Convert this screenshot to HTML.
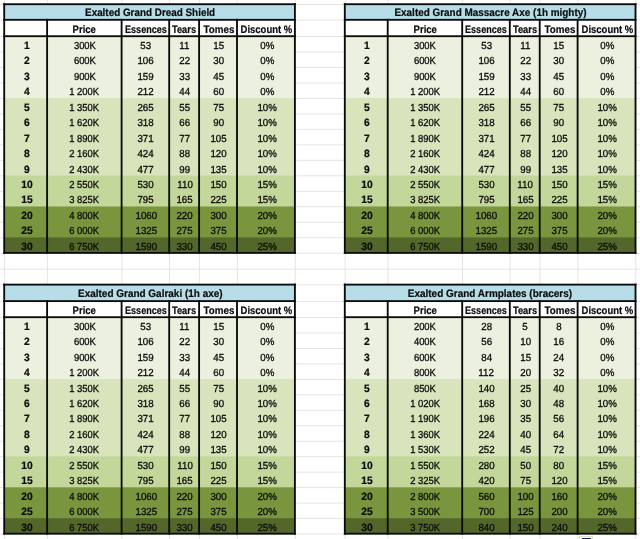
<!DOCTYPE html>
<html><head><meta charset="utf-8"><title>Exalted Grand crafting costs</title>
<style>
html,body{margin:0;padding:0;background:#fff}
body{width:640px;height:539px;position:relative;overflow:hidden;font-family:"Liberation Sans",sans-serif;font-size:10.2px;color:#0c0c0c;text-rendering:geometricPrecision;-webkit-text-stroke:0.3px #0c0c0c}
.g{position:absolute;background:#e5e5e5}
.c{position:absolute}
.l{position:absolute;background:#0a0a0a}
.x{position:absolute;height:11px;line-height:11px;text-align:center;white-space:nowrap}
.x span{display:inline-block;transform-origin:50% 50%}
.tl{position:absolute;left:0;top:0;width:640px;height:539px}
.b{font-weight:bold;font-size:10.8px;-webkit-text-stroke-width:0.22px}
.nb{font-size:10.6px}
</style></head><body>
<svg width="640" height="539" viewBox="0 0 640 539" style="position:absolute;left:0;top:0">
<g fill="#e5e5e5">
<rect x="4.00" y="0" width="1" height="539"/>
<rect x="46.90" y="0" width="1" height="539"/>
<rect x="121.40" y="0" width="1" height="539"/>
<rect x="169.00" y="0" width="1" height="539"/>
<rect x="198.90" y="0" width="1" height="539"/>
<rect x="236.80" y="0" width="1" height="539"/>
<rect x="294.70" y="0" width="1" height="539"/>
<rect x="344.60" y="0" width="1" height="539"/>
<rect x="387.50" y="0" width="1" height="539"/>
<rect x="462.00" y="0" width="1" height="539"/>
<rect x="509.60" y="0" width="1" height="539"/>
<rect x="539.50" y="0" width="1" height="539"/>
<rect x="577.40" y="0" width="1" height="539"/>
<rect x="635.30" y="0" width="1" height="539"/>
<rect x="0" y="4.00" width="640" height="1"/>
<rect x="0" y="19.60" width="640" height="1"/>
<rect x="0" y="36.00" width="640" height="1"/>
<rect x="0" y="51.48" width="640" height="1"/>
<rect x="0" y="66.96" width="640" height="1"/>
<rect x="0" y="82.44" width="640" height="1"/>
<rect x="0" y="97.91" width="640" height="1"/>
<rect x="0" y="113.39" width="640" height="1"/>
<rect x="0" y="128.87" width="640" height="1"/>
<rect x="0" y="144.35" width="640" height="1"/>
<rect x="0" y="159.83" width="640" height="1"/>
<rect x="0" y="175.31" width="640" height="1"/>
<rect x="0" y="190.79" width="640" height="1"/>
<rect x="0" y="206.26" width="640" height="1"/>
<rect x="0" y="221.74" width="640" height="1"/>
<rect x="0" y="237.22" width="640" height="1"/>
<rect x="0" y="252.70" width="640" height="1"/>
<rect x="0" y="284.40" width="640" height="1"/>
<rect x="0" y="300.90" width="640" height="1"/>
<rect x="0" y="317.00" width="640" height="1"/>
<rect x="0" y="332.46" width="640" height="1"/>
<rect x="0" y="347.93" width="640" height="1"/>
<rect x="0" y="363.39" width="640" height="1"/>
<rect x="0" y="378.86" width="640" height="1"/>
<rect x="0" y="394.32" width="640" height="1"/>
<rect x="0" y="409.79" width="640" height="1"/>
<rect x="0" y="425.25" width="640" height="1"/>
<rect x="0" y="440.71" width="640" height="1"/>
<rect x="0" y="456.18" width="640" height="1"/>
<rect x="0" y="471.64" width="640" height="1"/>
<rect x="0" y="487.11" width="640" height="1"/>
<rect x="0" y="502.57" width="640" height="1"/>
<rect x="0" y="518.04" width="640" height="1"/>
<rect x="0" y="533.50" width="640" height="1"/>
<rect x="0" y="268.70" width="640" height="1"/>
</g>
<rect x="4.20" y="4.20" width="290.70" height="16.60" fill="#B7DEE8"/>
<rect x="4.20" y="19.80" width="290.70" height="17.40" fill="#fff"/>
<rect x="4.20" y="36.20" width="290.70" height="16.68" fill="#EBF1DE"/>
<rect x="4.20" y="51.68" width="290.70" height="16.68" fill="#EBF1DE"/>
<rect x="4.20" y="67.16" width="290.70" height="16.68" fill="#EBF1DE"/>
<rect x="4.20" y="82.64" width="290.70" height="16.68" fill="#EBF1DE"/>
<rect x="4.20" y="98.11" width="290.70" height="16.68" fill="#D8E4BC"/>
<rect x="4.20" y="113.59" width="290.70" height="16.68" fill="#D8E4BC"/>
<rect x="4.20" y="129.07" width="290.70" height="16.68" fill="#D8E4BC"/>
<rect x="4.20" y="144.55" width="290.70" height="16.68" fill="#D8E4BC"/>
<rect x="4.20" y="160.03" width="290.70" height="16.68" fill="#D8E4BC"/>
<rect x="4.20" y="175.51" width="290.70" height="16.68" fill="#C4D79B"/>
<rect x="4.20" y="190.99" width="290.70" height="16.68" fill="#C4D79B"/>
<rect x="4.20" y="206.46" width="290.70" height="16.68" fill="#79963E"/>
<rect x="4.20" y="221.94" width="290.70" height="16.68" fill="#79963E"/>
<rect x="4.20" y="237.42" width="290.70" height="15.48" fill="#53672A"/>
<rect x="344.80" y="4.20" width="290.70" height="16.60" fill="#B7DEE8"/>
<rect x="344.80" y="19.80" width="290.70" height="17.40" fill="#fff"/>
<rect x="344.80" y="36.20" width="290.70" height="16.68" fill="#EBF1DE"/>
<rect x="344.80" y="51.68" width="290.70" height="16.68" fill="#EBF1DE"/>
<rect x="344.80" y="67.16" width="290.70" height="16.68" fill="#EBF1DE"/>
<rect x="344.80" y="82.64" width="290.70" height="16.68" fill="#EBF1DE"/>
<rect x="344.80" y="98.11" width="290.70" height="16.68" fill="#D8E4BC"/>
<rect x="344.80" y="113.59" width="290.70" height="16.68" fill="#D8E4BC"/>
<rect x="344.80" y="129.07" width="290.70" height="16.68" fill="#D8E4BC"/>
<rect x="344.80" y="144.55" width="290.70" height="16.68" fill="#D8E4BC"/>
<rect x="344.80" y="160.03" width="290.70" height="16.68" fill="#D8E4BC"/>
<rect x="344.80" y="175.51" width="290.70" height="16.68" fill="#C4D79B"/>
<rect x="344.80" y="190.99" width="290.70" height="16.68" fill="#C4D79B"/>
<rect x="344.80" y="206.46" width="290.70" height="16.68" fill="#79963E"/>
<rect x="344.80" y="221.94" width="290.70" height="16.68" fill="#79963E"/>
<rect x="344.80" y="237.42" width="290.70" height="15.48" fill="#53672A"/>
<rect x="4.20" y="284.60" width="290.70" height="17.50" fill="#B7DEE8"/>
<rect x="4.20" y="301.10" width="290.70" height="17.10" fill="#fff"/>
<rect x="4.20" y="317.20" width="290.70" height="16.66" fill="#EBF1DE"/>
<rect x="4.20" y="332.66" width="290.70" height="16.66" fill="#EBF1DE"/>
<rect x="4.20" y="348.13" width="290.70" height="16.66" fill="#EBF1DE"/>
<rect x="4.20" y="363.59" width="290.70" height="16.66" fill="#EBF1DE"/>
<rect x="4.20" y="379.06" width="290.70" height="16.66" fill="#D8E4BC"/>
<rect x="4.20" y="394.52" width="290.70" height="16.66" fill="#D8E4BC"/>
<rect x="4.20" y="409.99" width="290.70" height="16.66" fill="#D8E4BC"/>
<rect x="4.20" y="425.45" width="290.70" height="16.66" fill="#D8E4BC"/>
<rect x="4.20" y="440.91" width="290.70" height="16.66" fill="#D8E4BC"/>
<rect x="4.20" y="456.38" width="290.70" height="16.66" fill="#C4D79B"/>
<rect x="4.20" y="471.84" width="290.70" height="16.66" fill="#C4D79B"/>
<rect x="4.20" y="487.31" width="290.70" height="16.66" fill="#79963E"/>
<rect x="4.20" y="502.77" width="290.70" height="16.66" fill="#79963E"/>
<rect x="4.20" y="518.24" width="290.70" height="15.46" fill="#53672A"/>
<rect x="344.80" y="284.60" width="290.70" height="17.50" fill="#B7DEE8"/>
<rect x="344.80" y="301.10" width="290.70" height="17.10" fill="#fff"/>
<rect x="344.80" y="317.20" width="290.70" height="16.66" fill="#EBF1DE"/>
<rect x="344.80" y="332.66" width="290.70" height="16.66" fill="#EBF1DE"/>
<rect x="344.80" y="348.13" width="290.70" height="16.66" fill="#EBF1DE"/>
<rect x="344.80" y="363.59" width="290.70" height="16.66" fill="#EBF1DE"/>
<rect x="344.80" y="379.06" width="290.70" height="16.66" fill="#D8E4BC"/>
<rect x="344.80" y="394.52" width="290.70" height="16.66" fill="#D8E4BC"/>
<rect x="344.80" y="409.99" width="290.70" height="16.66" fill="#D8E4BC"/>
<rect x="344.80" y="425.45" width="290.70" height="16.66" fill="#D8E4BC"/>
<rect x="344.80" y="440.91" width="290.70" height="16.66" fill="#D8E4BC"/>
<rect x="344.80" y="456.38" width="290.70" height="16.66" fill="#C4D79B"/>
<rect x="344.80" y="471.84" width="290.70" height="16.66" fill="#C4D79B"/>
<rect x="344.80" y="487.31" width="290.70" height="16.66" fill="#79963E"/>
<rect x="344.80" y="502.77" width="290.70" height="16.66" fill="#79963E"/>
<rect x="344.80" y="518.24" width="290.70" height="15.46" fill="#53672A"/>
<g fill="#0a0a0a">
<rect x="3.28" y="3.28" width="292.55" height="1.85"/>
<rect x="3.28" y="18.88" width="292.55" height="1.85"/>
<rect x="3.28" y="35.28" width="292.55" height="1.85"/>
<rect x="3.28" y="251.97" width="292.55" height="1.85"/>
<rect x="3.28" y="3.28" width="1.85" height="250.55"/>
<rect x="293.97" y="3.28" width="1.85" height="250.55"/>
<rect x="46.18" y="18.88" width="1.85" height="234.95"/>
<rect x="120.67" y="18.88" width="1.85" height="234.95"/>
<rect x="168.27" y="18.88" width="1.85" height="234.95"/>
<rect x="198.17" y="18.88" width="1.85" height="234.95"/>
<rect x="236.07" y="18.88" width="1.85" height="234.95"/>
<rect x="343.88" y="3.28" width="292.55" height="1.85"/>
<rect x="343.88" y="18.88" width="292.55" height="1.85"/>
<rect x="343.88" y="35.28" width="292.55" height="1.85"/>
<rect x="343.88" y="251.97" width="292.55" height="1.85"/>
<rect x="343.88" y="3.28" width="1.85" height="250.55"/>
<rect x="634.58" y="3.28" width="1.85" height="250.55"/>
<rect x="386.78" y="18.88" width="1.85" height="234.95"/>
<rect x="461.28" y="18.88" width="1.85" height="234.95"/>
<rect x="508.88" y="18.88" width="1.85" height="234.95"/>
<rect x="538.78" y="18.88" width="1.85" height="234.95"/>
<rect x="576.68" y="18.88" width="1.85" height="234.95"/>
<rect x="3.28" y="283.68" width="292.55" height="1.85"/>
<rect x="3.28" y="300.18" width="292.55" height="1.85"/>
<rect x="3.28" y="316.27" width="292.55" height="1.85"/>
<rect x="3.28" y="532.78" width="292.55" height="1.85"/>
<rect x="3.28" y="283.68" width="1.85" height="250.95"/>
<rect x="293.97" y="283.68" width="1.85" height="250.95"/>
<rect x="46.18" y="300.18" width="1.85" height="234.45"/>
<rect x="120.67" y="300.18" width="1.85" height="234.45"/>
<rect x="168.27" y="300.18" width="1.85" height="234.45"/>
<rect x="198.17" y="300.18" width="1.85" height="234.45"/>
<rect x="236.07" y="300.18" width="1.85" height="234.45"/>
<rect x="343.88" y="283.68" width="292.55" height="1.85"/>
<rect x="343.88" y="300.18" width="292.55" height="1.85"/>
<rect x="343.88" y="316.27" width="292.55" height="1.85"/>
<rect x="343.88" y="532.78" width="292.55" height="1.85"/>
<rect x="343.88" y="283.68" width="1.85" height="250.95"/>
<rect x="634.58" y="283.68" width="1.85" height="250.95"/>
<rect x="386.78" y="300.18" width="1.85" height="234.45"/>
<rect x="461.28" y="300.18" width="1.85" height="234.45"/>
<rect x="508.88" y="300.18" width="1.85" height="234.45"/>
<rect x="538.78" y="300.18" width="1.85" height="234.45"/>
<rect x="576.68" y="300.18" width="1.85" height="234.45"/>
</g>
</svg>
<div class="tl">
<div class="x b" style="left:5.26px;width:290.70px;top:8px"><span style="transform:scaleX(0.915)">Exalted Grand Dread Shield</span></div>
<div class="x b" style="left:46.86px;width:74.50px;top:25px"><span style="transform:scaleX(0.877)">Price</span></div>
<div class="x b" style="left:120.65px;width:47.60px;top:25px"><span style="transform:scaleX(0.837)">Essences</span></div>
<div class="x b" style="left:169.38px;width:29.90px;top:25px"><span style="transform:scaleX(0.859)">Tears</span></div>
<div class="x b" style="left:200.51px;width:37.90px;top:25px"><span style="transform:scaleX(0.906)">Tomes</span></div>
<div class="x b" style="left:236.84px;width:57.90px;top:25px"><span style="transform:scaleX(0.879)">Discount %</span></div>
<div class="x b nb" style="left:5.40px;width:42.90px;top:41px"><span style="transform:scaleX(0.97)">1</span></div>
<div class="x " style="left:47.60px;width:74.50px;top:41px"><span style="transform:scaleX(0.925)">300K</span></div>
<div class="x " style="left:122.10px;width:47.60px;top:41px"><span style="transform:scaleX(0.955)">53</span></div>
<div class="x " style="left:169.70px;width:29.90px;top:41px"><span style="transform:scaleX(0.955)">11</span></div>
<div class="x " style="left:199.60px;width:37.90px;top:41px"><span style="transform:scaleX(0.955)">15</span></div>
<div class="x " style="left:238.10px;width:57.90px;top:41px"><span style="transform:scaleX(0.955)">0%</span></div>
<div class="x b nb" style="left:5.40px;width:42.90px;top:56px"><span style="transform:scaleX(0.97)">2</span></div>
<div class="x " style="left:47.60px;width:74.50px;top:56px"><span style="transform:scaleX(0.925)">600K</span></div>
<div class="x " style="left:122.10px;width:47.60px;top:56px"><span style="transform:scaleX(0.955)">106</span></div>
<div class="x " style="left:169.70px;width:29.90px;top:56px"><span style="transform:scaleX(0.955)">22</span></div>
<div class="x " style="left:199.60px;width:37.90px;top:56px"><span style="transform:scaleX(0.955)">30</span></div>
<div class="x " style="left:238.10px;width:57.90px;top:56px"><span style="transform:scaleX(0.955)">0%</span></div>
<div class="x b nb" style="left:5.40px;width:42.90px;top:72px"><span style="transform:scaleX(0.97)">3</span></div>
<div class="x " style="left:47.60px;width:74.50px;top:72px"><span style="transform:scaleX(0.925)">900K</span></div>
<div class="x " style="left:122.10px;width:47.60px;top:72px"><span style="transform:scaleX(0.955)">159</span></div>
<div class="x " style="left:169.70px;width:29.90px;top:72px"><span style="transform:scaleX(0.955)">33</span></div>
<div class="x " style="left:199.60px;width:37.90px;top:72px"><span style="transform:scaleX(0.955)">45</span></div>
<div class="x " style="left:238.10px;width:57.90px;top:72px"><span style="transform:scaleX(0.955)">0%</span></div>
<div class="x b nb" style="left:5.40px;width:42.90px;top:87px"><span style="transform:scaleX(0.97)">4</span></div>
<div class="x " style="left:47.00px;width:74.50px;top:87px"><span style="transform:scaleX(0.925)">1 200K</span></div>
<div class="x " style="left:122.10px;width:47.60px;top:87px"><span style="transform:scaleX(0.955)">212</span></div>
<div class="x " style="left:169.70px;width:29.90px;top:87px"><span style="transform:scaleX(0.955)">44</span></div>
<div class="x " style="left:199.60px;width:37.90px;top:87px"><span style="transform:scaleX(0.955)">60</span></div>
<div class="x " style="left:238.10px;width:57.90px;top:87px"><span style="transform:scaleX(0.955)">0%</span></div>
<div class="x b nb" style="left:5.40px;width:42.90px;top:103px"><span style="transform:scaleX(0.97)">5</span></div>
<div class="x " style="left:47.00px;width:74.50px;top:103px"><span style="transform:scaleX(0.925)">1 350K</span></div>
<div class="x " style="left:122.10px;width:47.60px;top:103px"><span style="transform:scaleX(0.955)">265</span></div>
<div class="x " style="left:169.70px;width:29.90px;top:103px"><span style="transform:scaleX(0.955)">55</span></div>
<div class="x " style="left:199.60px;width:37.90px;top:103px"><span style="transform:scaleX(0.955)">75</span></div>
<div class="x " style="left:238.10px;width:57.90px;top:103px"><span style="transform:scaleX(0.955)">10%</span></div>
<div class="x b nb" style="left:5.40px;width:42.90px;top:118px"><span style="transform:scaleX(0.97)">6</span></div>
<div class="x " style="left:47.00px;width:74.50px;top:118px"><span style="transform:scaleX(0.925)">1 620K</span></div>
<div class="x " style="left:122.10px;width:47.60px;top:118px"><span style="transform:scaleX(0.955)">318</span></div>
<div class="x " style="left:169.70px;width:29.90px;top:118px"><span style="transform:scaleX(0.955)">66</span></div>
<div class="x " style="left:199.60px;width:37.90px;top:118px"><span style="transform:scaleX(0.955)">90</span></div>
<div class="x " style="left:238.10px;width:57.90px;top:118px"><span style="transform:scaleX(0.955)">10%</span></div>
<div class="x b nb" style="left:5.40px;width:42.90px;top:134px"><span style="transform:scaleX(0.97)">7</span></div>
<div class="x " style="left:47.00px;width:74.50px;top:134px"><span style="transform:scaleX(0.925)">1 890K</span></div>
<div class="x " style="left:122.10px;width:47.60px;top:134px"><span style="transform:scaleX(0.955)">371</span></div>
<div class="x " style="left:169.70px;width:29.90px;top:134px"><span style="transform:scaleX(0.955)">77</span></div>
<div class="x " style="left:199.60px;width:37.90px;top:134px"><span style="transform:scaleX(0.955)">105</span></div>
<div class="x " style="left:238.10px;width:57.90px;top:134px"><span style="transform:scaleX(0.955)">10%</span></div>
<div class="x b nb" style="left:5.40px;width:42.90px;top:149px"><span style="transform:scaleX(0.97)">8</span></div>
<div class="x " style="left:47.00px;width:74.50px;top:149px"><span style="transform:scaleX(0.925)">2 160K</span></div>
<div class="x " style="left:122.10px;width:47.60px;top:149px"><span style="transform:scaleX(0.955)">424</span></div>
<div class="x " style="left:169.70px;width:29.90px;top:149px"><span style="transform:scaleX(0.955)">88</span></div>
<div class="x " style="left:199.60px;width:37.90px;top:149px"><span style="transform:scaleX(0.955)">120</span></div>
<div class="x " style="left:238.10px;width:57.90px;top:149px"><span style="transform:scaleX(0.955)">10%</span></div>
<div class="x b nb" style="left:5.40px;width:42.90px;top:165px"><span style="transform:scaleX(0.97)">9</span></div>
<div class="x " style="left:47.00px;width:74.50px;top:165px"><span style="transform:scaleX(0.925)">2 430K</span></div>
<div class="x " style="left:122.10px;width:47.60px;top:165px"><span style="transform:scaleX(0.955)">477</span></div>
<div class="x " style="left:169.70px;width:29.90px;top:165px"><span style="transform:scaleX(0.955)">99</span></div>
<div class="x " style="left:199.60px;width:37.90px;top:165px"><span style="transform:scaleX(0.955)">135</span></div>
<div class="x " style="left:238.10px;width:57.90px;top:165px"><span style="transform:scaleX(0.955)">10%</span></div>
<div class="x b nb" style="left:5.40px;width:42.90px;top:180px"><span style="transform:scaleX(0.97)">10</span></div>
<div class="x " style="left:47.00px;width:74.50px;top:180px"><span style="transform:scaleX(0.925)">2 550K</span></div>
<div class="x " style="left:122.10px;width:47.60px;top:180px"><span style="transform:scaleX(0.955)">530</span></div>
<div class="x " style="left:169.70px;width:29.90px;top:180px"><span style="transform:scaleX(0.955)">110</span></div>
<div class="x " style="left:199.60px;width:37.90px;top:180px"><span style="transform:scaleX(0.955)">150</span></div>
<div class="x " style="left:238.10px;width:57.90px;top:180px"><span style="transform:scaleX(0.955)">15%</span></div>
<div class="x b nb" style="left:5.40px;width:42.90px;top:195px"><span style="transform:scaleX(0.97)">15</span></div>
<div class="x " style="left:47.00px;width:74.50px;top:195px"><span style="transform:scaleX(0.925)">3 825K</span></div>
<div class="x " style="left:122.10px;width:47.60px;top:195px"><span style="transform:scaleX(0.955)">795</span></div>
<div class="x " style="left:169.70px;width:29.90px;top:195px"><span style="transform:scaleX(0.955)">165</span></div>
<div class="x " style="left:199.60px;width:37.90px;top:195px"><span style="transform:scaleX(0.955)">225</span></div>
<div class="x " style="left:238.10px;width:57.90px;top:195px"><span style="transform:scaleX(0.955)">15%</span></div>
<div class="x b nb" style="left:5.40px;width:42.90px;top:211px"><span style="transform:scaleX(0.97)">20</span></div>
<div class="x " style="left:47.00px;width:74.50px;top:211px"><span style="transform:scaleX(0.925)">4 800K</span></div>
<div class="x " style="left:122.10px;width:47.60px;top:211px"><span style="transform:scaleX(0.955)">1060</span></div>
<div class="x " style="left:169.70px;width:29.90px;top:211px"><span style="transform:scaleX(0.955)">220</span></div>
<div class="x " style="left:199.60px;width:37.90px;top:211px"><span style="transform:scaleX(0.955)">300</span></div>
<div class="x " style="left:238.10px;width:57.90px;top:211px"><span style="transform:scaleX(0.955)">20%</span></div>
<div class="x b nb" style="left:5.40px;width:42.90px;top:226px"><span style="transform:scaleX(0.97)">25</span></div>
<div class="x " style="left:47.00px;width:74.50px;top:226px"><span style="transform:scaleX(0.925)">6 000K</span></div>
<div class="x " style="left:122.10px;width:47.60px;top:226px"><span style="transform:scaleX(0.955)">1325</span></div>
<div class="x " style="left:169.70px;width:29.90px;top:226px"><span style="transform:scaleX(0.955)">275</span></div>
<div class="x " style="left:199.60px;width:37.90px;top:226px"><span style="transform:scaleX(0.955)">375</span></div>
<div class="x " style="left:238.10px;width:57.90px;top:226px"><span style="transform:scaleX(0.955)">20%</span></div>
<div class="x b nb" style="left:5.40px;width:42.90px;top:242px"><span style="transform:scaleX(0.97)">30</span></div>
<div class="x " style="left:47.00px;width:74.50px;top:242px"><span style="transform:scaleX(0.925)">6 750K</span></div>
<div class="x " style="left:122.10px;width:47.60px;top:242px"><span style="transform:scaleX(0.955)">1590</span></div>
<div class="x " style="left:169.70px;width:29.90px;top:242px"><span style="transform:scaleX(0.955)">330</span></div>
<div class="x " style="left:199.60px;width:37.90px;top:242px"><span style="transform:scaleX(0.955)">450</span></div>
<div class="x " style="left:238.10px;width:57.90px;top:242px"><span style="transform:scaleX(0.955)">25%</span></div>
<div class="x b" style="left:344.87px;width:290.70px;top:8px"><span style="transform:scaleX(0.919)">Exalted Grand Massacre Axe (1h mighty)</span></div>
<div class="x b" style="left:388.26px;width:74.50px;top:25px"><span style="transform:scaleX(0.877)">Price</span></div>
<div class="x b" style="left:460.85px;width:47.60px;top:25px"><span style="transform:scaleX(0.837)">Essences</span></div>
<div class="x b" style="left:509.98px;width:29.90px;top:25px"><span style="transform:scaleX(0.859)">Tears</span></div>
<div class="x b" style="left:540.71px;width:37.90px;top:25px"><span style="transform:scaleX(0.906)">Tomes</span></div>
<div class="x b" style="left:578.04px;width:57.90px;top:25px"><span style="transform:scaleX(0.879)">Discount %</span></div>
<div class="x b nb" style="left:345.60px;width:42.90px;top:41px"><span style="transform:scaleX(0.97)">1</span></div>
<div class="x " style="left:387.70px;width:74.50px;top:41px"><span style="transform:scaleX(0.925)">300K</span></div>
<div class="x " style="left:462.70px;width:47.60px;top:41px"><span style="transform:scaleX(0.955)">53</span></div>
<div class="x " style="left:510.30px;width:29.90px;top:41px"><span style="transform:scaleX(0.955)">11</span></div>
<div class="x " style="left:540.20px;width:37.90px;top:41px"><span style="transform:scaleX(0.955)">15</span></div>
<div class="x " style="left:578.30px;width:57.90px;top:41px"><span style="transform:scaleX(0.955)">0%</span></div>
<div class="x b nb" style="left:345.60px;width:42.90px;top:56px"><span style="transform:scaleX(0.97)">2</span></div>
<div class="x " style="left:387.70px;width:74.50px;top:56px"><span style="transform:scaleX(0.925)">600K</span></div>
<div class="x " style="left:462.70px;width:47.60px;top:56px"><span style="transform:scaleX(0.955)">106</span></div>
<div class="x " style="left:510.30px;width:29.90px;top:56px"><span style="transform:scaleX(0.955)">22</span></div>
<div class="x " style="left:540.20px;width:37.90px;top:56px"><span style="transform:scaleX(0.955)">30</span></div>
<div class="x " style="left:578.30px;width:57.90px;top:56px"><span style="transform:scaleX(0.955)">0%</span></div>
<div class="x b nb" style="left:345.60px;width:42.90px;top:72px"><span style="transform:scaleX(0.97)">3</span></div>
<div class="x " style="left:387.70px;width:74.50px;top:72px"><span style="transform:scaleX(0.925)">900K</span></div>
<div class="x " style="left:462.70px;width:47.60px;top:72px"><span style="transform:scaleX(0.955)">159</span></div>
<div class="x " style="left:510.30px;width:29.90px;top:72px"><span style="transform:scaleX(0.955)">33</span></div>
<div class="x " style="left:540.20px;width:37.90px;top:72px"><span style="transform:scaleX(0.955)">45</span></div>
<div class="x " style="left:578.30px;width:57.90px;top:72px"><span style="transform:scaleX(0.955)">0%</span></div>
<div class="x b nb" style="left:345.60px;width:42.90px;top:87px"><span style="transform:scaleX(0.97)">4</span></div>
<div class="x " style="left:388.20px;width:74.50px;top:87px"><span style="transform:scaleX(0.925)">1 200K</span></div>
<div class="x " style="left:462.70px;width:47.60px;top:87px"><span style="transform:scaleX(0.955)">212</span></div>
<div class="x " style="left:510.30px;width:29.90px;top:87px"><span style="transform:scaleX(0.955)">44</span></div>
<div class="x " style="left:540.20px;width:37.90px;top:87px"><span style="transform:scaleX(0.955)">60</span></div>
<div class="x " style="left:578.30px;width:57.90px;top:87px"><span style="transform:scaleX(0.955)">0%</span></div>
<div class="x b nb" style="left:345.60px;width:42.90px;top:103px"><span style="transform:scaleX(0.97)">5</span></div>
<div class="x " style="left:388.20px;width:74.50px;top:103px"><span style="transform:scaleX(0.925)">1 350K</span></div>
<div class="x " style="left:462.70px;width:47.60px;top:103px"><span style="transform:scaleX(0.955)">265</span></div>
<div class="x " style="left:510.30px;width:29.90px;top:103px"><span style="transform:scaleX(0.955)">55</span></div>
<div class="x " style="left:540.20px;width:37.90px;top:103px"><span style="transform:scaleX(0.955)">75</span></div>
<div class="x " style="left:578.30px;width:57.90px;top:103px"><span style="transform:scaleX(0.955)">10%</span></div>
<div class="x b nb" style="left:345.60px;width:42.90px;top:118px"><span style="transform:scaleX(0.97)">6</span></div>
<div class="x " style="left:388.20px;width:74.50px;top:118px"><span style="transform:scaleX(0.925)">1 620K</span></div>
<div class="x " style="left:462.70px;width:47.60px;top:118px"><span style="transform:scaleX(0.955)">318</span></div>
<div class="x " style="left:510.30px;width:29.90px;top:118px"><span style="transform:scaleX(0.955)">66</span></div>
<div class="x " style="left:540.20px;width:37.90px;top:118px"><span style="transform:scaleX(0.955)">90</span></div>
<div class="x " style="left:578.30px;width:57.90px;top:118px"><span style="transform:scaleX(0.955)">10%</span></div>
<div class="x b nb" style="left:345.60px;width:42.90px;top:134px"><span style="transform:scaleX(0.97)">7</span></div>
<div class="x " style="left:388.20px;width:74.50px;top:134px"><span style="transform:scaleX(0.925)">1 890K</span></div>
<div class="x " style="left:462.70px;width:47.60px;top:134px"><span style="transform:scaleX(0.955)">371</span></div>
<div class="x " style="left:510.30px;width:29.90px;top:134px"><span style="transform:scaleX(0.955)">77</span></div>
<div class="x " style="left:540.20px;width:37.90px;top:134px"><span style="transform:scaleX(0.955)">105</span></div>
<div class="x " style="left:578.30px;width:57.90px;top:134px"><span style="transform:scaleX(0.955)">10%</span></div>
<div class="x b nb" style="left:345.60px;width:42.90px;top:149px"><span style="transform:scaleX(0.97)">8</span></div>
<div class="x " style="left:388.20px;width:74.50px;top:149px"><span style="transform:scaleX(0.925)">2 160K</span></div>
<div class="x " style="left:462.70px;width:47.60px;top:149px"><span style="transform:scaleX(0.955)">424</span></div>
<div class="x " style="left:510.30px;width:29.90px;top:149px"><span style="transform:scaleX(0.955)">88</span></div>
<div class="x " style="left:540.20px;width:37.90px;top:149px"><span style="transform:scaleX(0.955)">120</span></div>
<div class="x " style="left:578.30px;width:57.90px;top:149px"><span style="transform:scaleX(0.955)">10%</span></div>
<div class="x b nb" style="left:345.60px;width:42.90px;top:165px"><span style="transform:scaleX(0.97)">9</span></div>
<div class="x " style="left:388.20px;width:74.50px;top:165px"><span style="transform:scaleX(0.925)">2 430K</span></div>
<div class="x " style="left:462.70px;width:47.60px;top:165px"><span style="transform:scaleX(0.955)">477</span></div>
<div class="x " style="left:510.30px;width:29.90px;top:165px"><span style="transform:scaleX(0.955)">99</span></div>
<div class="x " style="left:540.20px;width:37.90px;top:165px"><span style="transform:scaleX(0.955)">135</span></div>
<div class="x " style="left:578.30px;width:57.90px;top:165px"><span style="transform:scaleX(0.955)">10%</span></div>
<div class="x b nb" style="left:345.60px;width:42.90px;top:180px"><span style="transform:scaleX(0.97)">10</span></div>
<div class="x " style="left:388.20px;width:74.50px;top:180px"><span style="transform:scaleX(0.925)">2 550K</span></div>
<div class="x " style="left:462.70px;width:47.60px;top:180px"><span style="transform:scaleX(0.955)">530</span></div>
<div class="x " style="left:510.30px;width:29.90px;top:180px"><span style="transform:scaleX(0.955)">110</span></div>
<div class="x " style="left:540.20px;width:37.90px;top:180px"><span style="transform:scaleX(0.955)">150</span></div>
<div class="x " style="left:578.30px;width:57.90px;top:180px"><span style="transform:scaleX(0.955)">15%</span></div>
<div class="x b nb" style="left:345.60px;width:42.90px;top:195px"><span style="transform:scaleX(0.97)">15</span></div>
<div class="x " style="left:388.20px;width:74.50px;top:195px"><span style="transform:scaleX(0.925)">3 825K</span></div>
<div class="x " style="left:462.70px;width:47.60px;top:195px"><span style="transform:scaleX(0.955)">795</span></div>
<div class="x " style="left:510.30px;width:29.90px;top:195px"><span style="transform:scaleX(0.955)">165</span></div>
<div class="x " style="left:540.20px;width:37.90px;top:195px"><span style="transform:scaleX(0.955)">225</span></div>
<div class="x " style="left:578.30px;width:57.90px;top:195px"><span style="transform:scaleX(0.955)">15%</span></div>
<div class="x b nb" style="left:345.60px;width:42.90px;top:211px"><span style="transform:scaleX(0.97)">20</span></div>
<div class="x " style="left:388.20px;width:74.50px;top:211px"><span style="transform:scaleX(0.925)">4 800K</span></div>
<div class="x " style="left:462.70px;width:47.60px;top:211px"><span style="transform:scaleX(0.955)">1060</span></div>
<div class="x " style="left:510.30px;width:29.90px;top:211px"><span style="transform:scaleX(0.955)">220</span></div>
<div class="x " style="left:540.20px;width:37.90px;top:211px"><span style="transform:scaleX(0.955)">300</span></div>
<div class="x " style="left:578.30px;width:57.90px;top:211px"><span style="transform:scaleX(0.955)">20%</span></div>
<div class="x b nb" style="left:345.60px;width:42.90px;top:226px"><span style="transform:scaleX(0.97)">25</span></div>
<div class="x " style="left:388.20px;width:74.50px;top:226px"><span style="transform:scaleX(0.925)">6 000K</span></div>
<div class="x " style="left:462.70px;width:47.60px;top:226px"><span style="transform:scaleX(0.955)">1325</span></div>
<div class="x " style="left:510.30px;width:29.90px;top:226px"><span style="transform:scaleX(0.955)">275</span></div>
<div class="x " style="left:540.20px;width:37.90px;top:226px"><span style="transform:scaleX(0.955)">375</span></div>
<div class="x " style="left:578.30px;width:57.90px;top:226px"><span style="transform:scaleX(0.955)">20%</span></div>
<div class="x b nb" style="left:345.60px;width:42.90px;top:242px"><span style="transform:scaleX(0.97)">30</span></div>
<div class="x " style="left:388.20px;width:74.50px;top:242px"><span style="transform:scaleX(0.925)">6 750K</span></div>
<div class="x " style="left:462.70px;width:47.60px;top:242px"><span style="transform:scaleX(0.955)">1590</span></div>
<div class="x " style="left:510.30px;width:29.90px;top:242px"><span style="transform:scaleX(0.955)">330</span></div>
<div class="x " style="left:540.20px;width:37.90px;top:242px"><span style="transform:scaleX(0.955)">450</span></div>
<div class="x " style="left:578.30px;width:57.90px;top:242px"><span style="transform:scaleX(0.955)">25%</span></div>
<div class="x b" style="left:4.51px;width:290.70px;top:289px"><span style="transform:scaleX(0.923)">Exalted Grand Galraki (1h axe)</span></div>
<div class="x b" style="left:46.86px;width:74.50px;top:306px"><span style="transform:scaleX(0.877)">Price</span></div>
<div class="x b" style="left:120.65px;width:47.60px;top:306px"><span style="transform:scaleX(0.837)">Essences</span></div>
<div class="x b" style="left:169.38px;width:29.90px;top:306px"><span style="transform:scaleX(0.859)">Tears</span></div>
<div class="x b" style="left:200.51px;width:37.90px;top:306px"><span style="transform:scaleX(0.906)">Tomes</span></div>
<div class="x b" style="left:236.84px;width:57.90px;top:306px"><span style="transform:scaleX(0.879)">Discount %</span></div>
<div class="x b nb" style="left:5.40px;width:42.90px;top:322px"><span style="transform:scaleX(0.97)">1</span></div>
<div class="x " style="left:47.60px;width:74.50px;top:322px"><span style="transform:scaleX(0.925)">300K</span></div>
<div class="x " style="left:122.10px;width:47.60px;top:322px"><span style="transform:scaleX(0.955)">53</span></div>
<div class="x " style="left:169.70px;width:29.90px;top:322px"><span style="transform:scaleX(0.955)">11</span></div>
<div class="x " style="left:199.60px;width:37.90px;top:322px"><span style="transform:scaleX(0.955)">15</span></div>
<div class="x " style="left:238.10px;width:57.90px;top:322px"><span style="transform:scaleX(0.955)">0%</span></div>
<div class="x b nb" style="left:5.40px;width:42.90px;top:337px"><span style="transform:scaleX(0.97)">2</span></div>
<div class="x " style="left:47.60px;width:74.50px;top:337px"><span style="transform:scaleX(0.925)">600K</span></div>
<div class="x " style="left:122.10px;width:47.60px;top:337px"><span style="transform:scaleX(0.955)">106</span></div>
<div class="x " style="left:169.70px;width:29.90px;top:337px"><span style="transform:scaleX(0.955)">22</span></div>
<div class="x " style="left:199.60px;width:37.90px;top:337px"><span style="transform:scaleX(0.955)">30</span></div>
<div class="x " style="left:238.10px;width:57.90px;top:337px"><span style="transform:scaleX(0.955)">0%</span></div>
<div class="x b nb" style="left:5.40px;width:42.90px;top:353px"><span style="transform:scaleX(0.97)">3</span></div>
<div class="x " style="left:47.60px;width:74.50px;top:353px"><span style="transform:scaleX(0.925)">900K</span></div>
<div class="x " style="left:122.10px;width:47.60px;top:353px"><span style="transform:scaleX(0.955)">159</span></div>
<div class="x " style="left:169.70px;width:29.90px;top:353px"><span style="transform:scaleX(0.955)">33</span></div>
<div class="x " style="left:199.60px;width:37.90px;top:353px"><span style="transform:scaleX(0.955)">45</span></div>
<div class="x " style="left:238.10px;width:57.90px;top:353px"><span style="transform:scaleX(0.955)">0%</span></div>
<div class="x b nb" style="left:5.40px;width:42.90px;top:368px"><span style="transform:scaleX(0.97)">4</span></div>
<div class="x " style="left:47.00px;width:74.50px;top:368px"><span style="transform:scaleX(0.925)">1 200K</span></div>
<div class="x " style="left:122.10px;width:47.60px;top:368px"><span style="transform:scaleX(0.955)">212</span></div>
<div class="x " style="left:169.70px;width:29.90px;top:368px"><span style="transform:scaleX(0.955)">44</span></div>
<div class="x " style="left:199.60px;width:37.90px;top:368px"><span style="transform:scaleX(0.955)">60</span></div>
<div class="x " style="left:238.10px;width:57.90px;top:368px"><span style="transform:scaleX(0.955)">0%</span></div>
<div class="x b nb" style="left:5.40px;width:42.90px;top:384px"><span style="transform:scaleX(0.97)">5</span></div>
<div class="x " style="left:47.00px;width:74.50px;top:384px"><span style="transform:scaleX(0.925)">1 350K</span></div>
<div class="x " style="left:122.10px;width:47.60px;top:384px"><span style="transform:scaleX(0.955)">265</span></div>
<div class="x " style="left:169.70px;width:29.90px;top:384px"><span style="transform:scaleX(0.955)">55</span></div>
<div class="x " style="left:199.60px;width:37.90px;top:384px"><span style="transform:scaleX(0.955)">75</span></div>
<div class="x " style="left:238.10px;width:57.90px;top:384px"><span style="transform:scaleX(0.955)">10%</span></div>
<div class="x b nb" style="left:5.40px;width:42.90px;top:399px"><span style="transform:scaleX(0.97)">6</span></div>
<div class="x " style="left:47.00px;width:74.50px;top:399px"><span style="transform:scaleX(0.925)">1 620K</span></div>
<div class="x " style="left:122.10px;width:47.60px;top:399px"><span style="transform:scaleX(0.955)">318</span></div>
<div class="x " style="left:169.70px;width:29.90px;top:399px"><span style="transform:scaleX(0.955)">66</span></div>
<div class="x " style="left:199.60px;width:37.90px;top:399px"><span style="transform:scaleX(0.955)">90</span></div>
<div class="x " style="left:238.10px;width:57.90px;top:399px"><span style="transform:scaleX(0.955)">10%</span></div>
<div class="x b nb" style="left:5.40px;width:42.90px;top:414px"><span style="transform:scaleX(0.97)">7</span></div>
<div class="x " style="left:47.00px;width:74.50px;top:414px"><span style="transform:scaleX(0.925)">1 890K</span></div>
<div class="x " style="left:122.10px;width:47.60px;top:414px"><span style="transform:scaleX(0.955)">371</span></div>
<div class="x " style="left:169.70px;width:29.90px;top:414px"><span style="transform:scaleX(0.955)">77</span></div>
<div class="x " style="left:199.60px;width:37.90px;top:414px"><span style="transform:scaleX(0.955)">105</span></div>
<div class="x " style="left:238.10px;width:57.90px;top:414px"><span style="transform:scaleX(0.955)">10%</span></div>
<div class="x b nb" style="left:5.40px;width:42.90px;top:430px"><span style="transform:scaleX(0.97)">8</span></div>
<div class="x " style="left:47.00px;width:74.50px;top:430px"><span style="transform:scaleX(0.925)">2 160K</span></div>
<div class="x " style="left:122.10px;width:47.60px;top:430px"><span style="transform:scaleX(0.955)">424</span></div>
<div class="x " style="left:169.70px;width:29.90px;top:430px"><span style="transform:scaleX(0.955)">88</span></div>
<div class="x " style="left:199.60px;width:37.90px;top:430px"><span style="transform:scaleX(0.955)">120</span></div>
<div class="x " style="left:238.10px;width:57.90px;top:430px"><span style="transform:scaleX(0.955)">10%</span></div>
<div class="x b nb" style="left:5.40px;width:42.90px;top:445px"><span style="transform:scaleX(0.97)">9</span></div>
<div class="x " style="left:47.00px;width:74.50px;top:445px"><span style="transform:scaleX(0.925)">2 430K</span></div>
<div class="x " style="left:122.10px;width:47.60px;top:445px"><span style="transform:scaleX(0.955)">477</span></div>
<div class="x " style="left:169.70px;width:29.90px;top:445px"><span style="transform:scaleX(0.955)">99</span></div>
<div class="x " style="left:199.60px;width:37.90px;top:445px"><span style="transform:scaleX(0.955)">135</span></div>
<div class="x " style="left:238.10px;width:57.90px;top:445px"><span style="transform:scaleX(0.955)">10%</span></div>
<div class="x b nb" style="left:5.40px;width:42.90px;top:461px"><span style="transform:scaleX(0.97)">10</span></div>
<div class="x " style="left:47.00px;width:74.50px;top:461px"><span style="transform:scaleX(0.925)">2 550K</span></div>
<div class="x " style="left:122.10px;width:47.60px;top:461px"><span style="transform:scaleX(0.955)">530</span></div>
<div class="x " style="left:169.70px;width:29.90px;top:461px"><span style="transform:scaleX(0.955)">110</span></div>
<div class="x " style="left:199.60px;width:37.90px;top:461px"><span style="transform:scaleX(0.955)">150</span></div>
<div class="x " style="left:238.10px;width:57.90px;top:461px"><span style="transform:scaleX(0.955)">15%</span></div>
<div class="x b nb" style="left:5.40px;width:42.90px;top:476px"><span style="transform:scaleX(0.97)">15</span></div>
<div class="x " style="left:47.00px;width:74.50px;top:476px"><span style="transform:scaleX(0.925)">3 825K</span></div>
<div class="x " style="left:122.10px;width:47.60px;top:476px"><span style="transform:scaleX(0.955)">795</span></div>
<div class="x " style="left:169.70px;width:29.90px;top:476px"><span style="transform:scaleX(0.955)">165</span></div>
<div class="x " style="left:199.60px;width:37.90px;top:476px"><span style="transform:scaleX(0.955)">225</span></div>
<div class="x " style="left:238.10px;width:57.90px;top:476px"><span style="transform:scaleX(0.955)">15%</span></div>
<div class="x b nb" style="left:5.40px;width:42.90px;top:492px"><span style="transform:scaleX(0.97)">20</span></div>
<div class="x " style="left:47.00px;width:74.50px;top:492px"><span style="transform:scaleX(0.925)">4 800K</span></div>
<div class="x " style="left:122.10px;width:47.60px;top:492px"><span style="transform:scaleX(0.955)">1060</span></div>
<div class="x " style="left:169.70px;width:29.90px;top:492px"><span style="transform:scaleX(0.955)">220</span></div>
<div class="x " style="left:199.60px;width:37.90px;top:492px"><span style="transform:scaleX(0.955)">300</span></div>
<div class="x " style="left:238.10px;width:57.90px;top:492px"><span style="transform:scaleX(0.955)">20%</span></div>
<div class="x b nb" style="left:5.40px;width:42.90px;top:507px"><span style="transform:scaleX(0.97)">25</span></div>
<div class="x " style="left:47.00px;width:74.50px;top:507px"><span style="transform:scaleX(0.925)">6 000K</span></div>
<div class="x " style="left:122.10px;width:47.60px;top:507px"><span style="transform:scaleX(0.955)">1325</span></div>
<div class="x " style="left:169.70px;width:29.90px;top:507px"><span style="transform:scaleX(0.955)">275</span></div>
<div class="x " style="left:199.60px;width:37.90px;top:507px"><span style="transform:scaleX(0.955)">375</span></div>
<div class="x " style="left:238.10px;width:57.90px;top:507px"><span style="transform:scaleX(0.955)">20%</span></div>
<div class="x b nb" style="left:5.40px;width:42.90px;top:523px"><span style="transform:scaleX(0.97)">30</span></div>
<div class="x " style="left:47.00px;width:74.50px;top:523px"><span style="transform:scaleX(0.925)">6 750K</span></div>
<div class="x " style="left:122.10px;width:47.60px;top:523px"><span style="transform:scaleX(0.955)">1590</span></div>
<div class="x " style="left:169.70px;width:29.90px;top:523px"><span style="transform:scaleX(0.955)">330</span></div>
<div class="x " style="left:199.60px;width:37.90px;top:523px"><span style="transform:scaleX(0.955)">450</span></div>
<div class="x " style="left:238.10px;width:57.90px;top:523px"><span style="transform:scaleX(0.955)">25%</span></div>
<div class="x b" style="left:344.44px;width:290.70px;top:289px"><span style="transform:scaleX(0.924)">Exalted Grand Armplates (bracers)</span></div>
<div class="x b" style="left:388.26px;width:74.50px;top:306px"><span style="transform:scaleX(0.877)">Price</span></div>
<div class="x b" style="left:460.85px;width:47.60px;top:306px"><span style="transform:scaleX(0.837)">Essences</span></div>
<div class="x b" style="left:509.98px;width:29.90px;top:306px"><span style="transform:scaleX(0.859)">Tears</span></div>
<div class="x b" style="left:540.71px;width:37.90px;top:306px"><span style="transform:scaleX(0.906)">Tomes</span></div>
<div class="x b" style="left:578.04px;width:57.90px;top:306px"><span style="transform:scaleX(0.879)">Discount %</span></div>
<div class="x b nb" style="left:345.60px;width:42.90px;top:322px"><span style="transform:scaleX(0.97)">1</span></div>
<div class="x " style="left:387.70px;width:74.50px;top:322px"><span style="transform:scaleX(0.925)">200K</span></div>
<div class="x " style="left:462.70px;width:47.60px;top:322px"><span style="transform:scaleX(0.955)">28</span></div>
<div class="x " style="left:510.30px;width:29.90px;top:322px"><span style="transform:scaleX(0.955)">5</span></div>
<div class="x " style="left:540.20px;width:37.90px;top:322px"><span style="transform:scaleX(0.955)">8</span></div>
<div class="x " style="left:578.30px;width:57.90px;top:322px"><span style="transform:scaleX(0.955)">0%</span></div>
<div class="x b nb" style="left:345.60px;width:42.90px;top:337px"><span style="transform:scaleX(0.97)">2</span></div>
<div class="x " style="left:387.70px;width:74.50px;top:337px"><span style="transform:scaleX(0.925)">400K</span></div>
<div class="x " style="left:462.70px;width:47.60px;top:337px"><span style="transform:scaleX(0.955)">56</span></div>
<div class="x " style="left:510.30px;width:29.90px;top:337px"><span style="transform:scaleX(0.955)">10</span></div>
<div class="x " style="left:540.20px;width:37.90px;top:337px"><span style="transform:scaleX(0.955)">16</span></div>
<div class="x " style="left:578.30px;width:57.90px;top:337px"><span style="transform:scaleX(0.955)">0%</span></div>
<div class="x b nb" style="left:345.60px;width:42.90px;top:353px"><span style="transform:scaleX(0.97)">3</span></div>
<div class="x " style="left:387.70px;width:74.50px;top:353px"><span style="transform:scaleX(0.925)">600K</span></div>
<div class="x " style="left:462.70px;width:47.60px;top:353px"><span style="transform:scaleX(0.955)">84</span></div>
<div class="x " style="left:510.30px;width:29.90px;top:353px"><span style="transform:scaleX(0.955)">15</span></div>
<div class="x " style="left:540.20px;width:37.90px;top:353px"><span style="transform:scaleX(0.955)">24</span></div>
<div class="x " style="left:578.30px;width:57.90px;top:353px"><span style="transform:scaleX(0.955)">0%</span></div>
<div class="x b nb" style="left:345.60px;width:42.90px;top:368px"><span style="transform:scaleX(0.97)">4</span></div>
<div class="x " style="left:387.70px;width:74.50px;top:368px"><span style="transform:scaleX(0.925)">800K</span></div>
<div class="x " style="left:462.70px;width:47.60px;top:368px"><span style="transform:scaleX(0.955)">112</span></div>
<div class="x " style="left:510.30px;width:29.90px;top:368px"><span style="transform:scaleX(0.955)">20</span></div>
<div class="x " style="left:540.20px;width:37.90px;top:368px"><span style="transform:scaleX(0.955)">32</span></div>
<div class="x " style="left:578.30px;width:57.90px;top:368px"><span style="transform:scaleX(0.955)">0%</span></div>
<div class="x b nb" style="left:345.60px;width:42.90px;top:384px"><span style="transform:scaleX(0.97)">5</span></div>
<div class="x " style="left:387.70px;width:74.50px;top:384px"><span style="transform:scaleX(0.925)">850K</span></div>
<div class="x " style="left:462.70px;width:47.60px;top:384px"><span style="transform:scaleX(0.955)">140</span></div>
<div class="x " style="left:510.30px;width:29.90px;top:384px"><span style="transform:scaleX(0.955)">25</span></div>
<div class="x " style="left:540.20px;width:37.90px;top:384px"><span style="transform:scaleX(0.955)">40</span></div>
<div class="x " style="left:578.30px;width:57.90px;top:384px"><span style="transform:scaleX(0.955)">10%</span></div>
<div class="x b nb" style="left:345.60px;width:42.90px;top:399px"><span style="transform:scaleX(0.97)">6</span></div>
<div class="x " style="left:388.20px;width:74.50px;top:399px"><span style="transform:scaleX(0.925)">1 020K</span></div>
<div class="x " style="left:462.70px;width:47.60px;top:399px"><span style="transform:scaleX(0.955)">168</span></div>
<div class="x " style="left:510.30px;width:29.90px;top:399px"><span style="transform:scaleX(0.955)">30</span></div>
<div class="x " style="left:540.20px;width:37.90px;top:399px"><span style="transform:scaleX(0.955)">48</span></div>
<div class="x " style="left:578.30px;width:57.90px;top:399px"><span style="transform:scaleX(0.955)">10%</span></div>
<div class="x b nb" style="left:345.60px;width:42.90px;top:414px"><span style="transform:scaleX(0.97)">7</span></div>
<div class="x " style="left:388.20px;width:74.50px;top:414px"><span style="transform:scaleX(0.925)">1 190K</span></div>
<div class="x " style="left:462.70px;width:47.60px;top:414px"><span style="transform:scaleX(0.955)">196</span></div>
<div class="x " style="left:510.30px;width:29.90px;top:414px"><span style="transform:scaleX(0.955)">35</span></div>
<div class="x " style="left:540.20px;width:37.90px;top:414px"><span style="transform:scaleX(0.955)">56</span></div>
<div class="x " style="left:578.30px;width:57.90px;top:414px"><span style="transform:scaleX(0.955)">10%</span></div>
<div class="x b nb" style="left:345.60px;width:42.90px;top:430px"><span style="transform:scaleX(0.97)">8</span></div>
<div class="x " style="left:388.20px;width:74.50px;top:430px"><span style="transform:scaleX(0.925)">1 360K</span></div>
<div class="x " style="left:462.70px;width:47.60px;top:430px"><span style="transform:scaleX(0.955)">224</span></div>
<div class="x " style="left:510.30px;width:29.90px;top:430px"><span style="transform:scaleX(0.955)">40</span></div>
<div class="x " style="left:540.20px;width:37.90px;top:430px"><span style="transform:scaleX(0.955)">64</span></div>
<div class="x " style="left:578.30px;width:57.90px;top:430px"><span style="transform:scaleX(0.955)">10%</span></div>
<div class="x b nb" style="left:345.60px;width:42.90px;top:445px"><span style="transform:scaleX(0.97)">9</span></div>
<div class="x " style="left:388.20px;width:74.50px;top:445px"><span style="transform:scaleX(0.925)">1 530K</span></div>
<div class="x " style="left:462.70px;width:47.60px;top:445px"><span style="transform:scaleX(0.955)">252</span></div>
<div class="x " style="left:510.30px;width:29.90px;top:445px"><span style="transform:scaleX(0.955)">45</span></div>
<div class="x " style="left:540.20px;width:37.90px;top:445px"><span style="transform:scaleX(0.955)">72</span></div>
<div class="x " style="left:578.30px;width:57.90px;top:445px"><span style="transform:scaleX(0.955)">10%</span></div>
<div class="x b nb" style="left:345.60px;width:42.90px;top:461px"><span style="transform:scaleX(0.97)">10</span></div>
<div class="x " style="left:388.20px;width:74.50px;top:461px"><span style="transform:scaleX(0.925)">1 550K</span></div>
<div class="x " style="left:462.70px;width:47.60px;top:461px"><span style="transform:scaleX(0.955)">280</span></div>
<div class="x " style="left:510.30px;width:29.90px;top:461px"><span style="transform:scaleX(0.955)">50</span></div>
<div class="x " style="left:540.20px;width:37.90px;top:461px"><span style="transform:scaleX(0.955)">80</span></div>
<div class="x " style="left:578.30px;width:57.90px;top:461px"><span style="transform:scaleX(0.955)">15%</span></div>
<div class="x b nb" style="left:345.60px;width:42.90px;top:476px"><span style="transform:scaleX(0.97)">15</span></div>
<div class="x " style="left:388.20px;width:74.50px;top:476px"><span style="transform:scaleX(0.925)">2 325K</span></div>
<div class="x " style="left:462.70px;width:47.60px;top:476px"><span style="transform:scaleX(0.955)">420</span></div>
<div class="x " style="left:510.30px;width:29.90px;top:476px"><span style="transform:scaleX(0.955)">75</span></div>
<div class="x " style="left:540.20px;width:37.90px;top:476px"><span style="transform:scaleX(0.955)">120</span></div>
<div class="x " style="left:578.30px;width:57.90px;top:476px"><span style="transform:scaleX(0.955)">15%</span></div>
<div class="x b nb" style="left:345.60px;width:42.90px;top:492px"><span style="transform:scaleX(0.97)">20</span></div>
<div class="x " style="left:388.20px;width:74.50px;top:492px"><span style="transform:scaleX(0.925)">2 800K</span></div>
<div class="x " style="left:462.70px;width:47.60px;top:492px"><span style="transform:scaleX(0.955)">560</span></div>
<div class="x " style="left:510.30px;width:29.90px;top:492px"><span style="transform:scaleX(0.955)">100</span></div>
<div class="x " style="left:540.20px;width:37.90px;top:492px"><span style="transform:scaleX(0.955)">160</span></div>
<div class="x " style="left:578.30px;width:57.90px;top:492px"><span style="transform:scaleX(0.955)">20%</span></div>
<div class="x b nb" style="left:345.60px;width:42.90px;top:507px"><span style="transform:scaleX(0.97)">25</span></div>
<div class="x " style="left:388.20px;width:74.50px;top:507px"><span style="transform:scaleX(0.925)">3 500K</span></div>
<div class="x " style="left:462.70px;width:47.60px;top:507px"><span style="transform:scaleX(0.955)">700</span></div>
<div class="x " style="left:510.30px;width:29.90px;top:507px"><span style="transform:scaleX(0.955)">125</span></div>
<div class="x " style="left:540.20px;width:37.90px;top:507px"><span style="transform:scaleX(0.955)">200</span></div>
<div class="x " style="left:578.30px;width:57.90px;top:507px"><span style="transform:scaleX(0.955)">20%</span></div>
<div class="x b nb" style="left:345.60px;width:42.90px;top:523px"><span style="transform:scaleX(0.97)">30</span></div>
<div class="x " style="left:388.20px;width:74.50px;top:523px"><span style="transform:scaleX(0.925)">3 750K</span></div>
<div class="x " style="left:462.70px;width:47.60px;top:523px"><span style="transform:scaleX(0.955)">840</span></div>
<div class="x " style="left:510.30px;width:29.90px;top:523px"><span style="transform:scaleX(0.955)">150</span></div>
<div class="x " style="left:540.20px;width:37.90px;top:523px"><span style="transform:scaleX(0.955)">240</span></div>
<div class="x " style="left:578.30px;width:57.90px;top:523px"><span style="transform:scaleX(0.955)">25%</span></div>
</div>
<div style="position:absolute;left:579.4px;top:536px;width:13.6px;height:4px;background:#fffdf0;border:0.6px solid #e9e2bd;box-sizing:border-box"></div>
<div style="position:absolute;left:581.8px;top:537.7px;width:9px;height:2px;background:#1c1c70"></div>
</body></html>
